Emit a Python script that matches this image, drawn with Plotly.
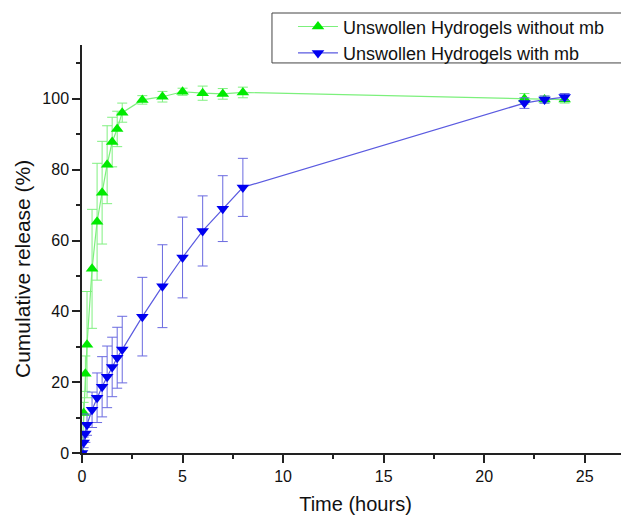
import plotly.graph_objects as go

time_h = [0, 0.083, 0.167, 0.25, 0.5, 0.75, 1, 1.25, 1.5, 1.75, 2, 3, 4, 5, 6, 7, 8, 22, 23, 24]

without_mb = [0, 11.3, 22.4, 30.6, 52.0, 65.3, 73.5, 81.4, 87.8, 91.5, 96.1, 99.7, 100.6, 102.0, 101.6, 101.4, 101.8, 100.0, 99.8, 99.8]
without_mb_err = [0, 3, 5, 15, 16.8, 16.5, 14.5, 11, 7, 5, 2.7, 1.2, 1.5, 1, 2, 1.5, 1.5, 1.5, 1, 1]

with_mb = [0, 3.0, 5.5, 8.0, 12.2, 15.6, 18.7, 21.5, 24.3, 26.9, 29.2, 38.5, 47.1, 55.2, 62.7, 69.0, 75.0, 98.8, 99.8, 100.5]
with_mb_err = [0, 1.5, 2.5, 3, 5, 7, 8.5, 8.7, 8.4, 8.6, 9.4, 11.1, 11.7, 11.4, 9.9, 9.3, 8.2, 1.5, 1, 1]

series_names = ["Unswollen Hydrogels without mb", "Unswollen Hydrogels with mb"]
x_title = "Time (hours)"
y_title = "Cumulative release (%)"

fig = go.Figure()
fig.add_trace(go.Scatter(
    x=time_h, y=without_mb, name=series_names[0], mode="lines+markers",
    line=dict(color="#7CF07C", width=1.2),
    marker=dict(symbol="triangle-up", size=11, color="#00EA00"),
    error_y=dict(type="data", array=without_mb_err, visible=True,
                 color="#80F080", thickness=1, width=5),
))
fig.add_trace(go.Scatter(
    x=time_h, y=with_mb, name=series_names[1], mode="lines+markers",
    line=dict(color="#5A5AE0", width=1.2),
    marker=dict(symbol="triangle-down", size=11, color="#0000F0"),
    error_y=dict(type="data", array=with_mb_err, visible=True,
                 color="#6A6AE0", thickness=1, width=5),
))

axis_font = dict(family="Liberation Sans, Arial, sans-serif", size=16, color="#111")
title_font = dict(family="Liberation Sans, Arial, sans-serif", size=20, color="#111")

# legend frame
fig.add_shape(type="rect", xref="paper", yref="paper",
              x0=0.3473, x1=0.9973, y0=0.956, y1=1.0784,
              line=dict(color="#444", width=1), fillcolor="rgba(0,0,0,0)", layer="above")

# y-axis title (placed slightly below plot centre, as in the reference)
fig.add_annotation(text=y_title, xref="paper", yref="paper",
                   x=-0.1079, y=0.451, xanchor="center", yanchor="middle",
                   textangle=-90, showarrow=False,
                   font=dict(family="Liberation Sans, Arial, sans-serif", size=21, color="#111"))

fig.update_layout(
    width=621, height=507,
    margin=dict(l=74, r=0, t=37, b=62),
    paper_bgcolor="white", plot_bgcolor="white",
    showlegend=True,
    legend=dict(
        x=0.3857, xanchor="left", y=1.09, yanchor="top",
        bgcolor="rgba(0,0,0,0)", borderwidth=0,
        font=dict(family="Liberation Sans, Arial, sans-serif", size=18, color="#111"),
        tracegroupgap=0, itemwidth=40,
    ),
    xaxis=dict(
        range=[0, 27.2], dtick=5, tick0=0, automargin=False,
        showgrid=False, zeroline=False,
        showline=True, linecolor="#222", linewidth=1.5,
        ticks="outside", ticklen=8, tickwidth=1.5, tickcolor="#222",
        minor=dict(dtick=2.5, ticks="outside", ticklen=4, tickwidth=1.5, tickcolor="#222"),
        tickfont=axis_font,
        title=dict(text=x_title, font=title_font, standoff=14),
    ),
    yaxis=dict(
        range=[0, 115.2], dtick=20, tick0=0, automargin=False,
        showgrid=False, zeroline=False,
        showline=True, linecolor="#222", linewidth=1.5,
        ticks="outside", ticklen=8, tickwidth=1.5, tickcolor="#222",
        minor=dict(dtick=10, ticks="outside", ticklen=4, tickwidth=1.5, tickcolor="#222"),
        tickfont=axis_font,
    ),
)

fig.write_html("out.html")
